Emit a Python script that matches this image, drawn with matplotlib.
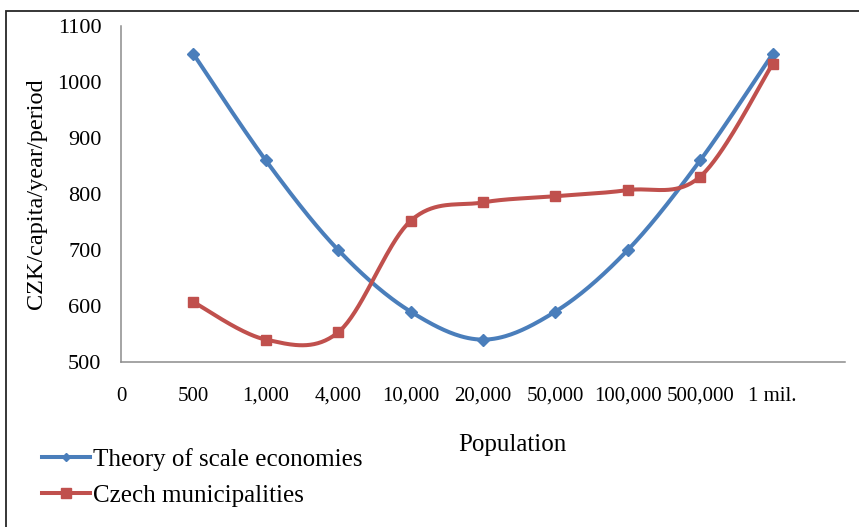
import numpy as np
import matplotlib
matplotlib.use("Agg")
import matplotlib.pyplot as plt
from matplotlib.patches import Rectangle
from matplotlib.lines import Line2D

plt.rcParams['font.family'] = ['Liberation Serif', 'DejaVu Serif']

# Population size classes (first slot "0" has no data)
categories = ["0", "500", "1,000", "4,000", "10,000", "20,000",
              "50,000", "100,000", "500,000", "1 mil."]
theory_values = [1050, 860, 700, 590, 540, 590, 700, 860, 1050]
czech_values = [607, 540, 553, 752, 785, 796, 807, 831, 1032]
series_names = ["Theory of scale economies", "Czech municipalities"]
y_ticks = [500, 600, 700, 800, 900, 1000, 1100]

BLUE = "#4A7EBB"
RED = "#C0504D"


def smooth_curve(x, y, n=40):
    """Bezier smoothing of a polyline (Catmull-Rom control points)."""
    pts = np.column_stack([x, y]).astype(float)
    P = np.vstack([pts[0], pts, pts[-1]])
    t = np.linspace(0, 1, n)[:, None]
    out = []
    for i in range(1, len(P) - 2):
        p0, p1, p2, p3 = P[i - 1], P[i], P[i + 1], P[i + 2]
        c1 = p1 + (p2 - p0) / 6.0
        c2 = p2 - (p3 - p1) / 6.0
        seg = ((1 - t) ** 3) * p1 + 3 * ((1 - t) ** 2) * t * c1 \
            + 3 * (1 - t) * t ** 2 * c2 + t ** 3 * p2
        out.append(seg if i == 1 else seg[1:])
    out = np.vstack(out)
    return out[:, 0], out[:, 1]


W, H = 859, 527
fig = plt.figure(figsize=(W / 100, H / 100), dpi=100)

# outer frame of the chart area
fig.patches.append(Rectangle((6 / W, -0.05), 1.2, 1 - 11 / H + 0.05,
                             transform=fig.transFigure, fill=False,
                             edgecolor="#262626", linewidth=1.3))

ax = fig.add_axes([121 / W, 1 - 362 / H, 724 / W, 336 / H])

xpos = np.arange(1, len(theory_values) + 1)

for vals, color, marker, ms in [(theory_values, BLUE, "D", 6),
                                (czech_values, RED, "s", 7.5)]:
    sx, sy = smooth_curve(xpos, vals)
    ax.plot(sx, sy, color=color, linewidth=2.9, solid_capstyle="round",
            zorder=2)
    ax.plot(xpos, vals, linestyle="none", marker=marker, markersize=ms,
            color=color, markeredgecolor=color, zorder=3)

ax.set_xlim(0, 10)
ax.set_ylim(500, 1100)
ax.set_yticks(y_ticks)
ax.set_xticks(np.arange(len(categories)))
ax.set_xticklabels(categories)
ax.tick_params(axis="both", length=0, colors="black")
ax.tick_params(axis="x", pad=18, labelsize=15)
ax.tick_params(axis="y", pad=14, labelsize=16)

for side in ("top", "right"):
    ax.spines[side].set_visible(False)
for side in ("left", "bottom"):
    ax.spines[side].set_color("#8C8C8C")
    ax.spines[side].set_linewidth(1.1)

ax.set_ylabel("CZK/capita/year/period", fontsize=17.5, labelpad=7)
ax.set_xlabel("Population", fontsize=18)
ax.xaxis.set_label_coords((512 - 121) / 724, -(434 - 362) / 336)

handles = [
    Line2D([0], [0], color=BLUE, linewidth=2.9, marker="D", markersize=4.5),
    Line2D([0], [0], color=RED, linewidth=2.9, marker="s", markersize=6.5),
]
fig.legend(handles, series_names, loc="upper left",
           bbox_to_anchor=(42 / W, 1 - 448 / H), frameon=False,
           fontsize=18, handlelength=1.9, handletextpad=0.15,
           labelspacing=0.55, borderpad=0, borderaxespad=0)

fig.savefig("out.png", dpi=100)
